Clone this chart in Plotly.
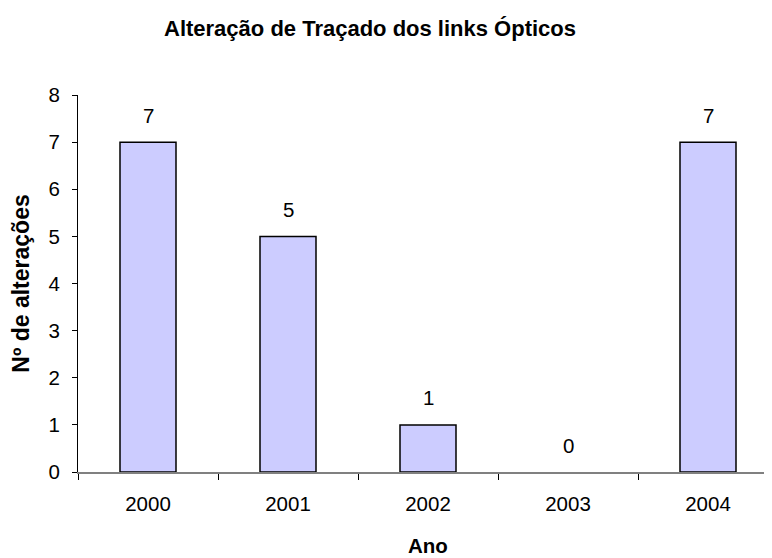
import plotly.graph_objects as go

# Alterações de traçado por ano
anos = ["2000", "2001", "2002", "2003", "2004"]
alteracoes = [7, 5, 1, 0, 7]

FONT = "Liberation Sans, Arial, sans-serif"

fig = go.Figure()
fig.add_trace(go.Bar(
    x=anos,
    y=alteracoes,
    width=0.4,
    marker=dict(
        color="#CCCCFF",
        # barra de valor 0 sem contorno, como no Excel
        line=dict(color="black", width=[1.5 if v else 0 for v in alteracoes]),
    ),
))

# rótulos de dados acima das barras (x como índice da categoria)
for i, v in enumerate(alteracoes):
    fig.add_annotation(
        x=i, y=v, text=str(v), showarrow=False,
        yanchor="middle", yshift=27,
        font=dict(family=FONT, size=20.5, color="black"),
    )

fig.add_annotation(
    xref="paper", yref="paper", x=0.421, y=1.0, yanchor="middle", yshift=67,
    text="<b>Alteração de Traçado dos links Ópticos</b>", showarrow=False,
    font=dict(family=FONT, size=22, color="black"),
)
fig.add_annotation(
    xref="paper", yref="paper", x=0.504, y=0, yanchor="middle", yshift=-73,
    text="<b>Ano</b>", showarrow=False,
    font=dict(family=FONT, size=20.5, color="black"),
)

fig.update_layout(
    width=764, height=550,
    margin=dict(l=70, r=0, t=87, b=86),
    plot_bgcolor="white", paper_bgcolor="white",
    showlegend=False,
    font=dict(family=FONT, size=20.5, color="black"),
    xaxis=dict(
        type="category",
        range=[-0.5, -0.5 + 694 / 140],
        tickson="boundaries",
        ticks="outside", ticklen=6, tickcolor="black",
        showline=True, linecolor="#808080", linewidth=1.5,
        showgrid=False, zeroline=False,
        layer="below traces",
        ticklabelstandoff=13,
    ),
    yaxis=dict(
        range=[0, 8], dtick=1,
        ticks="outside", ticklen=5, tickcolor="black",
        showline=True, linecolor="black", linewidth=1,
        showgrid=False, zeroline=False,
        ticklabelstandoff=8,
        automargin=False,
        title=dict(text="<b>Nº de alterações</b>", font=dict(size=23), standoff=14),
    ),
)

fig.write_html("out.html")
